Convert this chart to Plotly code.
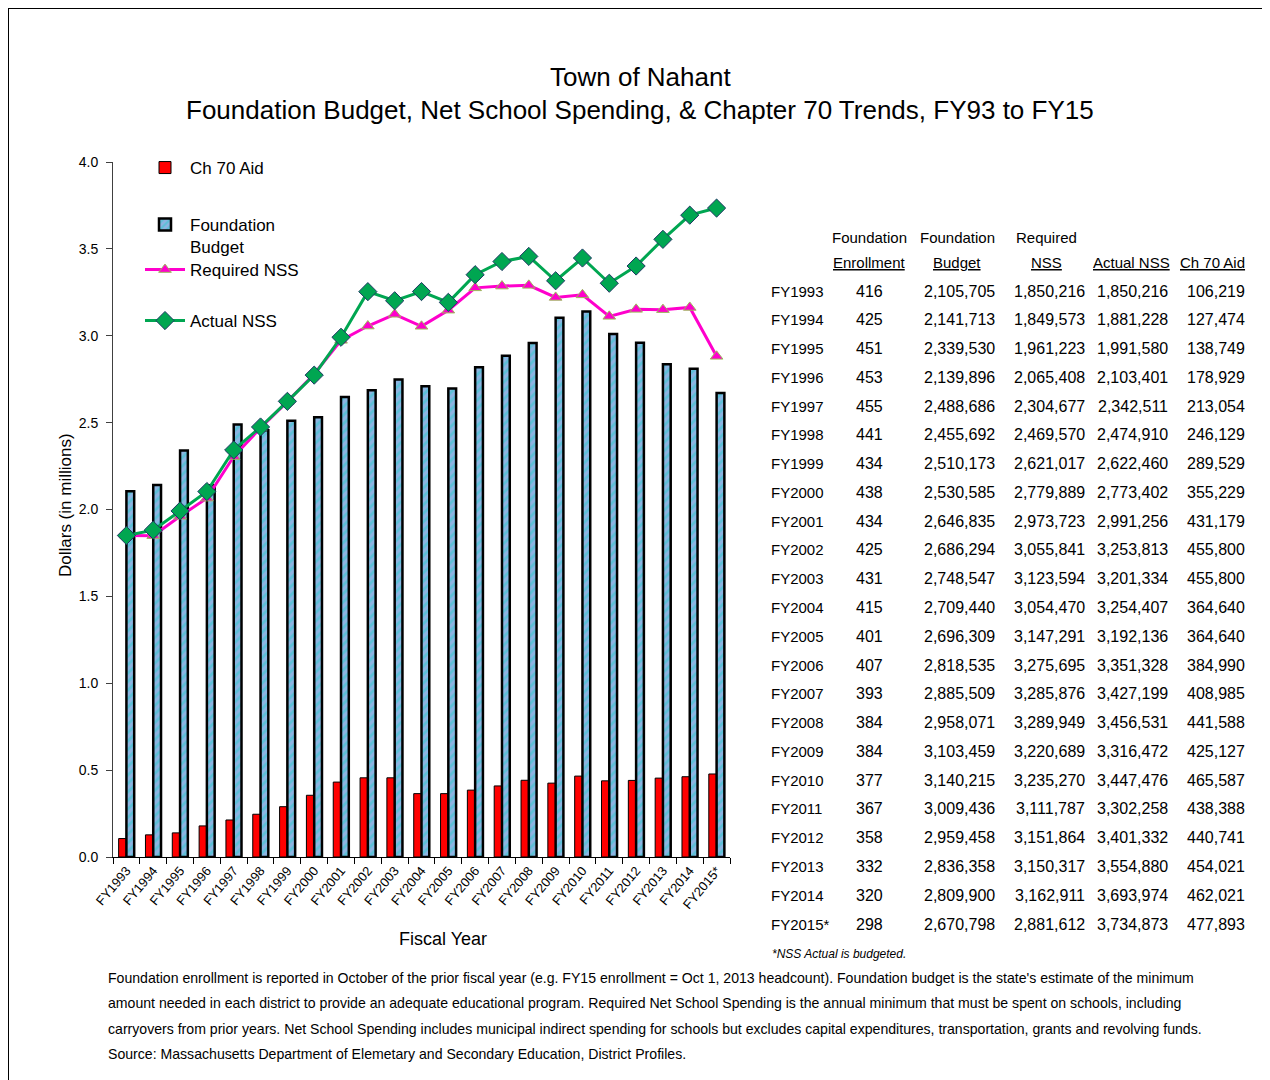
import plotly.graph_objects as go

years = ["FY1993","FY1994","FY1995","FY1996","FY1997","FY1998","FY1999","FY2000","FY2001","FY2002",
         "FY2003","FY2004","FY2005","FY2006","FY2007","FY2008","FY2009","FY2010","FY2011","FY2012",
         "FY2013","FY2014","FY2015*"]
enrollment = [416,425,451,453,455,441,434,438,434,425,431,415,401,407,393,384,384,377,367,358,332,320,298]
foundation_budget = [2105705,2141713,2339530,2139896,2488686,2455692,2510173,2530585,2646835,2686294,
                     2748547,2709440,2696309,2818535,2885509,2958071,3103459,3140215,3009436,2959458,
                     2836358,2809900,2670798]
required_nss = [1850216,1849573,1961223,2065408,2304677,2469570,2621017,2779889,2973723,3055841,
                3123594,3054470,3147291,3275695,3285876,3289949,3220689,3235270,3111787,3151864,
                3150317,3162911,2881612]
actual_nss = [1850216,1881228,1991580,2103401,2342511,2474910,2622460,2773402,2991256,3253813,
              3201334,3254407,3192136,3351328,3427199,3456531,3316472,3447476,3302258,3401332,
              3554880,3693974,3734873]
ch70_aid = [106219,127474,138749,178929,213054,246129,289529,355229,431179,455800,
            455800,364640,364640,384990,408985,441588,425127,465587,438388,440741,
            454021,462021,477893]

FONT = "Liberation Sans, Arial, sans-serif"
OFF = 8  # page body margin
W, H = 1270, 1080
# plot area in page pixels: x 113..730, y 162..857
L = 113 - OFF
T = 162 - OFF
R = W - (730 - OFF)
B = H - (857 - OFF)
PW, PH = W - L - R, H - T - B

def px(x):
    return (x - OFF - L) / PW

def py(y):
    return (H - B - (y - OFF)) / PH

mil = lambda arr: [v / 1e6 for v in arr]

fig = go.Figure()
fig.add_trace(go.Bar(x=years, y=mil(ch70_aid), name="Ch 70 Aid", legend="legend",
                     marker=dict(color="#FF0000", line=dict(color="black", width=1))))
fig.add_trace(go.Bar(x=years, y=mil(foundation_budget), name="Foundation<br>Budget", legend="legend2",
                     marker=dict(color="#8DB4E2", line=dict(color="black", width=2.5),
                                 pattern=dict(shape="/", fgcolor="#2ECBCB", bgcolor="#8DB4E2",
                                              size=6, solidity=0.45))))
fig.add_trace(go.Scatter(x=years, y=mil(required_nss), name="Required NSS", legend="legend3",
                         mode="lines+markers", line=dict(color="#FF00CC", width=3),
                         marker=dict(symbol="triangle-up", size=11, color="#FF00CC",
                                     line=dict(color="#9BBB59", width=1))))
fig.add_trace(go.Scatter(x=years, y=mil(actual_nss), name="Actual NSS", legend="legend4",
                         mode="lines+markers", line=dict(color="#00A651", width=3),
                         marker=dict(symbol="diamond", size=14, color="#00A651",
                                     line=dict(color="#1F3864", width=1))))

leg_common = dict(font=dict(family=FONT, size=17, color="black"), bgcolor="rgba(0,0,0,0)",
                  itemwidth=40, xanchor="left", valign="top")

annotations = []
annotations.append(dict(text="Town of Nahant", x=px(640), y=py(77), xref="paper", yref="paper",
                        showarrow=False, font=dict(family=FONT, size=26, color="black"),
                        xanchor="center", yanchor="middle"))
annotations.append(dict(text="Foundation Budget, Net School Spending, & Chapter 70 Trends, FY93 to FY15",
                        x=px(640), y=py(110), xref="paper", yref="paper", showarrow=False,
                        font=dict(family=FONT, size=26, color="black"), xanchor="center", yanchor="middle"))
annotations.append(dict(text="Dollars (in millions)", x=px(65), y=py(505), xref="paper", yref="paper",
                        showarrow=False, textangle=-90, font=dict(family=FONT, size=17, color="black"),
                        xanchor="center", yanchor="middle"))
annotations.append(dict(text="Fiscal Year", x=px(443), y=py(939), xref="paper", yref="paper",
                        showarrow=False, font=dict(family=FONT, size=18, color="black"),
                        xanchor="center", yanchor="middle"))

tf = dict(family=FONT, size=16, color="black")
hdr1 = [("Foundation", 870), ("Foundation", 957), ("Required", 1046)]
hdr2 = [("Enrollment", 870), ("Budget", 957), ("NSS", 1046), ("Actual NSS", 1131), ("Ch 70 Aid", 1212)]
for t, x in hdr1:
    annotations.append(dict(text=t, x=px(x), y=py(237), xref="paper", yref="paper", showarrow=False,
                            font=dict(family=FONT, size=15, color="black"), xanchor="center", yanchor="middle"))
for t, x in hdr2:
    annotations.append(dict(text="<u>" + t + "</u>", x=px(x), y=py(262), xref="paper", yref="paper",
                            showarrow=False, font=dict(family=FONT, size=15, color="black"),
                            xanchor="center", yanchor="middle"))
row0, rstep = 291, (924 - 291) / 22
for i, yr in enumerate(years):
    yy = py(row0 + i * rstep)
    annotations.append(dict(text=yr, x=px(769), y=yy, xref="paper", yref="paper", showarrow=False,
                            font=dict(family=FONT, size=15, color="black"), xanchor="left", yanchor="middle"))
    annotations.append(dict(text=str(enrollment[i]), x=px(870), y=yy, xref="paper", yref="paper",
                            showarrow=False, font=tf, xanchor="center", yanchor="middle"))
    for arr, xr in [(foundation_budget, 997), (required_nss, 1087), (actual_nss, 1170), (ch70_aid, 1247)]:
        annotations.append(dict(text=f"{arr[i]:,}", x=px(xr), y=yy, xref="paper", yref="paper",
                                showarrow=False, font=tf, xanchor="right", yanchor="middle"))
annotations.append(dict(text="<i>*NSS Actual is budgeted.</i>", x=px(770), y=py(954), xref="paper",
                        yref="paper", showarrow=False, font=dict(family=FONT, size=12, color="black"),
                        xanchor="left", yanchor="middle"))

notes = [
    "Foundation enrollment is reported in October of the prior fiscal year (e.g. FY15 enrollment = Oct 1, 2013 headcount). Foundation budget is the state's estimate of the minimum",
    "amount needed in each district to provide an adequate educational program. Required Net School Spending is the annual minimum that must be spent on schools, including",
    "carryovers from prior years. Net School Spending includes municipal indirect spending for schools but excludes capital expenditures, transportation, grants and revolving funds.",
    "Source: Massachusetts Department of Elemetary and Secondary Education, District Profiles.",
]
for i, n in enumerate(notes):
    annotations.append(dict(text=n, x=px(106), y=py(978 + i * 25.3), xref="paper", yref="paper",
                            showarrow=False, font=dict(family=FONT, size=14.1, color="black"),
                            xanchor="left", yanchor="middle"))

fig.update_layout(
    width=W, height=H,
    margin=dict(l=L, r=R, t=T, b=B, autoexpand=False),
    paper_bgcolor="white", plot_bgcolor="white",
    barmode="group", bargap=0.42, bargroupgap=0,
    font=dict(family=FONT, color="black"),
    showlegend=True,
    legend=dict(**leg_common, x=px(140), y=py(168), yanchor="middle"),
    legend2=dict(**leg_common, x=px(140), y=py(207), yanchor="top"),
    legend3=dict(**leg_common, x=px(140), y=py(270), yanchor="middle"),
    legend4=dict(**leg_common, x=px(140), y=py(321), yanchor="middle"),
    xaxis=dict(range=[-0.5, len(years) - 0.5], showgrid=False, showline=True, linecolor="black",
               linewidth=1, ticks="outside", ticklen=6, tickcolor="black", tickson="boundaries",
               tickangle=-50, tickfont=dict(family=FONT, size=13, color="black")),
    yaxis=dict(range=[0, 4.0], dtick=0.5, tickformat=".1f", showgrid=False, zeroline=False,
               showline=True, linecolor="#404040", linewidth=1, ticks="outside", ticklen=6,
               tickcolor="#404040", ticklabelstandoff=5,
               tickfont=dict(family=FONT, size=14, color="black")),
    annotations=annotations,
    shapes=[dict(type="rect", xref="paper", yref="paper", x0=px(8), x1=px(1300), y0=py(1100), y1=py(8),
                 line=dict(color="black", width=2), fillcolor="rgba(0,0,0,0)", layer="below")],
)

fig.write_html("out.html")
